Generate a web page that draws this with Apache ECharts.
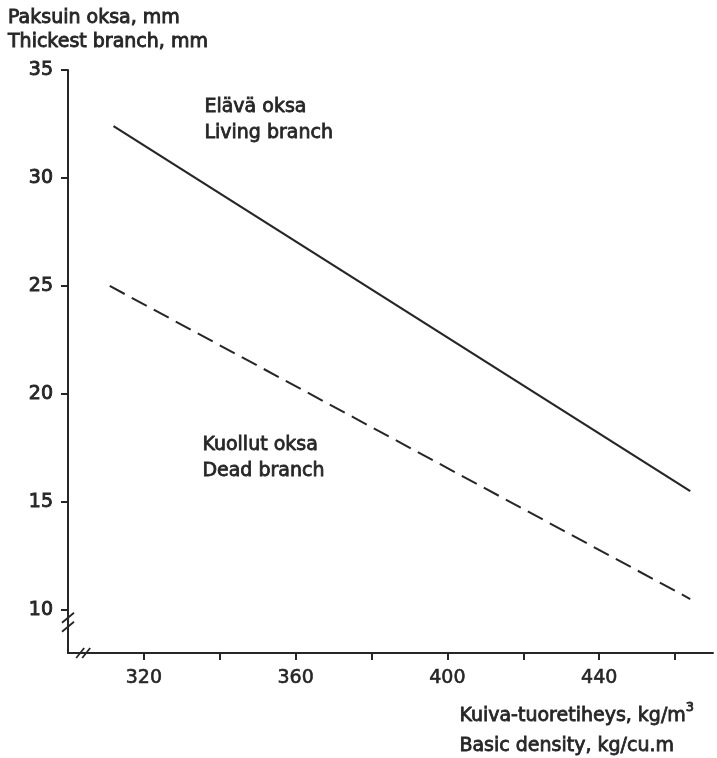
<!DOCTYPE html>
<html>
<head>
<meta charset="utf-8">
<script src="https://cdn.jsdelivr.net/npm/echarts@6/dist/echarts.min.js"></script>
<style>
    html, body { margin: 0; padding: 0; background: #fff; }
    #chart { width: 717px; height: 758px; }
</style>
</head>
<body>
<div id="chart"></div>
<script>
// basic density (kg/m3) at the two ends of each fitted line
var densityLiving = [312, 464];
var branchLiving = [32.4, 15.5];
var densityDead = [311, 464];
var branchDead = [25.0, 10.5];

var xTicks = [320, 340, 360, 380, 400, 420, 440, 460];
var xLabels = [320, 360, 400, 440];
var yTicks = [10, 15, 20, 25, 30, 35];

var ink = '#262626';
var font = 'DejaVu Sans';

function pairs(xs, ys) {
    return xs.map(function(x, i) { return [x, ys[i]]; });
}

var chart = echarts.init(document.getElementById('chart'));
chart.setOption({
    animation: false,
    textStyle: { fontFamily: font, color: ink },
    title: {
        text: 'Paksuin oksa, mm\nThickest branch, mm',
        left: 8,
        top: 6,
        padding: 0,
        textStyle: {
            fontFamily: font,
            fontSize: 19,
            fontWeight: 'normal',
            color: ink,
            lineHeight: 24,
            textBorderColor: ink,
            textBorderWidth: 0.9
        }
    },
    grid: {
        left: 68,
        right: 4,
        top: 70,
        bottom: 105
    },
    xAxis: {
        type: 'value',
        min: 300,
        max: 470,
        splitLine: { show: false },
        axisLine: { lineStyle: { color: ink, width: 2 } },
        axisTick: {
            show: true,
            customValues: xTicks,
            length: 7,
            lineStyle: { color: ink, width: 2 }
        },
        axisLabel: {
            customValues: xLabels,
            margin: 16,
            fontSize: 19,
            color: ink,
            fontFamily: font,
            textBorderColor: ink,
            textBorderWidth: 0.6
        }
    },
    yAxis: {
        type: 'value',
        min: 8,
        max: 35,
        splitLine: { show: false },
        axisLine: { show: true, lineStyle: { color: ink, width: 2 } },
        axisTick: {
            show: true,
            customValues: yTicks,
            length: 7,
            lineStyle: { color: ink, width: 2 }
        },
        axisLabel: {
            customValues: yTicks,
            margin: 15,
            fontSize: 19,
            color: ink,
            fontFamily: font,
            textBorderColor: ink,
            textBorderWidth: 0.9
        }
    },
    series: [
        {
            name: 'Living branch',
            type: 'line',
            data: pairs(densityLiving, branchLiving),
            symbol: 'none',
            lineStyle: { color: ink, width: 2.2, type: 'solid' }
        },
        {
            name: 'Dead branch',
            type: 'line',
            data: pairs(densityDead, branchDead),
            symbol: 'none',
            lineStyle: { color: ink, width: 2, type: [17, 8] }
        }
    ]
});

// axis breaks and annotations
var yBreak = chart.convertToPixel({ gridIndex: 0 }, [300, 9.4]);
var xBreak = chart.convertToPixel({ gridIndex: 0 }, [304, 8]);

function slash(cx, cy, dx, dy) {
    return {
        type: 'line',
        shape: { x1: cx - dx, y1: cy + dy, x2: cx + dx, y2: cy - dy },
        style: { stroke: ink, lineWidth: 1.8 }
    };
}

function note(text, left, top) {
    return {
        type: 'text',
        left: left,
        top: top,
        style: {
            text: text,
            font: '19px "' + font + '"',
            fill: ink,
            lineHeight: 26,
            stroke: ink,
            lineWidth: 0.8
        }
    };
}

chart.setOption({
    graphic: [
        slash(yBreak[0], yBreak[1] - 5, 6, 5),
        slash(yBreak[0], yBreak[1] + 4, 6, 5),
        slash(xBreak[0] - 3, xBreak[1], 4, 5),
        slash(xBreak[0] + 3, xBreak[1], 4, 5),
        note('Elävä oksa\nLiving branch', 204, 94),
        note('Kuollut oksa\nDead branch', 202, 432),
        {
            type: 'text',
            left: 459,
            top: 701,
            style: {
                text: '{t|Kuiva-tuoretiheys, kg/m}{s|3}\n{t|Basic density, kg/cu.m}',
                fill: ink,
                stroke: ink,
                lineWidth: 0.8,
                rich: {
                    t: {
                        fontFamily: font,
                        fontSize: 19,
                        lineHeight: 30
                    },
                    s: {
                        fontFamily: font,
                        fontSize: 13,
                        lineHeight: 30,
                        verticalAlign: 'top'
                    }
                }
            }
        }
    ]
});
</script>
</body>
</html>
